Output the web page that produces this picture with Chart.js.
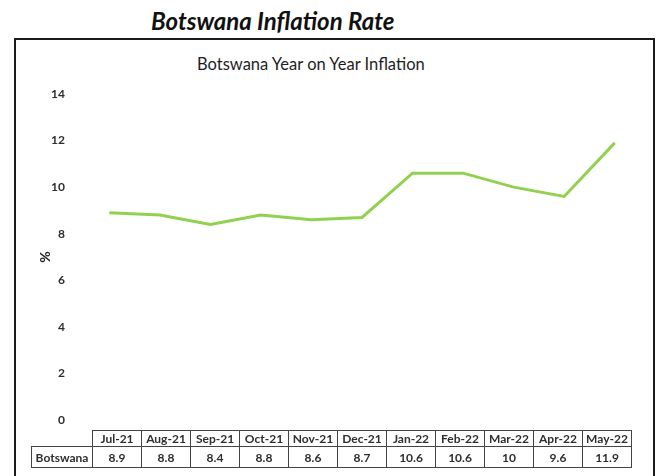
<!DOCTYPE html>
<html lang="en">
<head>
  <meta charset="UTF-8" />
  <title>Botswana Inflation Rate</title>
  <script src="https://cdn.jsdelivr.net/npm/chart.js"></script>
  <style>
    body { margin: 0; background: #fff; font-family: Lato, "Open Sans", sans-serif; }
    .page { position: relative; width: 657px; height: 476px; overflow: hidden; }
    h1 {
      position: absolute; left: 151px; top: 6px; margin: 0;
      font-size: 24px; font-weight: 700; font-style: italic; color: #111;
    }
    .frame {
      position: absolute; left: 14px; top: 38px; width: 637px; height: 460px;
      border: 2px solid #1b1b1b;
    }
    .chart-title {
      position: absolute; left: 197px; top: 54px; margin: 0;
      font-size: 16.5px; font-weight: 400; color: #1e1e1e;
    }
    #grafikInflasi { position: absolute; left: 0; top: 0; }
    table.data {
      position: absolute; left: 31px; top: 430px;
      border-collapse: collapse; font-size: 12px; font-weight: 700; color: #2e2e2e;
    }
    table.data td { border: 1px solid #444; text-align: center; padding: 0; }
    table.data tr.head td { height: 14px; }
    table.data tr.vals td { height: 20px; }
    table.data td.blank { border: none; }
    table.data td.name { width: 60px; }
    table.data td.mon { width: 48px; }
  </style>
</head>
<body>
  <div class="page">
    <h1>Botswana Inflation Rate</h1>
    <div class="frame"></div>
    <div class="chart-title">Botswana Year on Year Inflation</div>
    <canvas id="grafikInflasi" width="657" height="476"></canvas>
    <table class="data" id="tabel"></table>
  </div>

  <script>
    const bulan = ['Jul-21', 'Aug-21', 'Sep-21', 'Oct-21', 'Nov-21', 'Dec-21', 'Jan-22', 'Feb-22', 'Mar-22', 'Apr-22', 'May-22'];
    const inflasi = [8.9, 8.8, 8.4, 8.8, 8.6, 8.7, 10.6, 10.6, 10, 9.6, 11.9];
    const seriesName = 'Botswana';
    const yTicks = [0, 2, 4, 6, 8, 10, 12, 14];

    // data table under the plot
    const tabel = document.getElementById('tabel');
    let headRow = '<tr class="head"><td class="blank name"></td>';
    let valRow = '<tr class="vals"><td class="name">' + seriesName + '</td>';
    bulan.forEach((b, i) => {
      headRow += '<td class="mon">' + b + '</td>';
      valRow += '<td class="mon">' + inflasi[i] + '</td>';
    });
    tabel.innerHTML = headRow + '</tr>' + valRow + '</tr>';

    const ctx = document.getElementById('grafikInflasi').getContext('2d');
    new Chart(ctx, {
      type: 'line',
      data: {
        labels: bulan,
        datasets: [{
          label: seriesName,
          data: inflasi,
          borderColor: '#92D050',
          borderWidth: 3,
          pointRadius: 0,
          tension: 0,
          fill: false
        }]
      },
      options: {
        responsive: false,
        animation: false,
        layout: { padding: { left: 28, right: 17, top: 94, bottom: 56 } },
        plugins: {
          legend: { display: false },
          tooltip: { enabled: false }
        },
        scales: {
          x: { display: false, offset: true },
          y: {
            min: yTicks[0],
            max: yTicks[yTicks.length - 1],
            afterBuildTicks: scale => { scale.ticks = yTicks.map(v => ({ value: v })); },
            afterFit: scale => { scale.width = 56; },
            grid: { display: false },
            border: { display: false },
            ticks: {
              padding: 11,
              color: '#2e2e2e',
              font: { family: 'Lato', size: 12, weight: 'bold' }
            },
            title: {
              display: true,
              text: '%',
              color: '#222',
              padding: { top: 9, bottom: 0 },
              font: { family: 'Lato', size: 14, weight: 'bold' }
            }
          }
        }
      }
    });
  </script>
</body>
</html>
